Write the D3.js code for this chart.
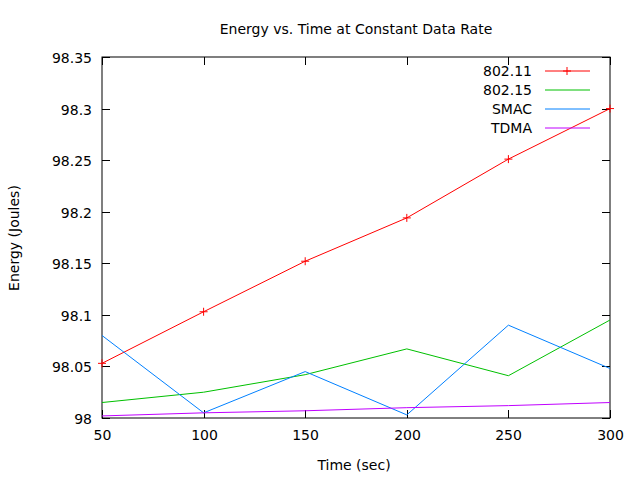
<!DOCTYPE html>
<html><head><meta charset="utf-8">
<script src="https://cdn.jsdelivr.net/npm/d3@7"></script>
<style>body{margin:0;background:#fff}text{font-family:"DejaVu Sans",sans-serif;font-size:14px;fill:#000}</style>
</head><body><svg id="c" width="640" height="480"></svg>
<script>
const times = [50, 100, 150, 200, 250, 300];
const e80211 = [98.053, 98.103, 98.152, 98.194, 98.251, 98.300];
const e80215 = [98.015, 98.025, 98.042, 98.067, 98.041, 98.095];
const smac = [98.080, 98.005, 98.045, 98.003, 98.090, 98.048];
const tdma = [98.002, 98.005, 98.007, 98.010, 98.012, 98.015];
const yTicks = [98, 98.05, 98.1, 98.15, 98.2, 98.25, 98.3, 98.35];
const xTicks = [50, 100, 150, 200, 250, 300];

const series = [
  {name: "802.11", values: e80211, color: "#ff0000", marker: true},
  {name: "802.15", values: e80215, color: "#00c000"},
  {name: "SMAC", values: smac, color: "#0080ff"},
  {name: "TDMA", values: tdma, color: "#c000ff"}
];

const svg = d3.select("#c");
const L = 102, R = 610, T = 57, B = 418;
const x = d3.scaleLinear().domain([50, 300]).range([L, R]);
const y = d3.scaleLinear().domain([98, 98.35]).range([B, T]);

svg.append("rect").attr("x", L).attr("y", T).attr("width", R - L).attr("height", B - T)
  .attr("fill", "none").attr("stroke", "#000");

yTicks.forEach(t => {
  const yy = Math.round(y(t)) + 0.5;
  svg.append("line").attr("x1", L).attr("x2", L + 8).attr("y1", yy).attr("y2", yy).attr("stroke", "#000");
  svg.append("line").attr("x1", R - 8).attr("x2", R).attr("y1", yy).attr("y2", yy).attr("stroke", "#000");
  svg.append("text").attr("x", L - 10).attr("y", yy + 5).attr("text-anchor", "end").text(d3.format("")(t));
});
xTicks.forEach(t => {
  const xx = Math.round(x(t)) + 0.5;
  svg.append("line").attr("x1", xx).attr("x2", xx).attr("y1", B).attr("y2", B - 8).attr("stroke", "#000");
  svg.append("line").attr("x1", xx).attr("x2", xx).attr("y1", T).attr("y2", T + 8).attr("stroke", "#000");
  svg.append("text").attr("x", xx).attr("y", B + 22).attr("text-anchor", "middle").text(t);
});

svg.append("text").attr("x", 356).attr("y", 34).attr("text-anchor", "middle").text("Energy vs. Time at Constant Data Rate");
svg.append("text").attr("x", 354).attr("y", 470).attr("text-anchor", "middle").text("Time (sec)");
svg.append("text").attr("transform", "translate(19,238) rotate(-90)").attr("text-anchor", "middle").text("Energy (Joules)");

const line = d3.line().x((d, i) => x(times[i])).y(d => y(d));
series.forEach((s, k) => {
  svg.append("path").attr("d", line(s.values)).attr("fill", "none").attr("stroke", s.color).attr("stroke-width", 1);
  const ly = 71 + k * 19;
  svg.append("text").attr("x", 532).attr("y", ly + 5).attr("text-anchor", "end").text(s.name);
  svg.append("line").attr("x1", 545).attr("x2", 590).attr("y1", ly).attr("y2", ly).attr("stroke", s.color);
  if (s.marker) {
    const pts = s.values.map((v, i) => [x(times[i]), y(v)]).concat([[567, ly]]);
    pts.forEach(p => {
      svg.append("path").attr("d", `M${p[0]-4},${p[1]}h8M${p[0]},${p[1]-4}v8`).attr("stroke", s.color);
    });
  }
});
</script></body></html>
